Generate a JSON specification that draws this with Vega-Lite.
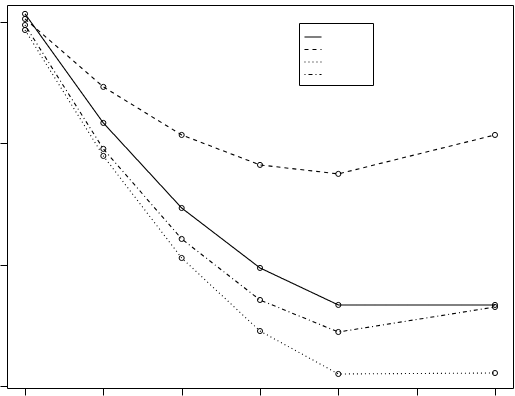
{
  "$schema": "https://vega.github.io/schema/vega-lite/v6.json",
  "width": 506,
  "height": 383,
  "autosize": "none",
  "padding": {"left": 7, "top": 5, "right": 2, "bottom": 8},
  "config": {
    "view": {"stroke": "black", "strokeWidth": 1},
    "axis": {"grid": false, "domain": false, "labels": false, "title": null, "tickColor": "black", "tickSize": 7, "tickWidth": 1}
  },
  "data": {
    "values": [
      {"series": "A", "x": 1, "y": 3.067},
      {"series": "A", "x": 2, "y": 2.168},
      {"series": "A", "x": 3, "y": 1.467},
      {"series": "A", "x": 4, "y": 0.973},
      {"series": "A", "x": 5, "y": 0.668},
      {"series": "A", "x": 7, "y": 0.668},
      {"series": "B", "x": 1, "y": 3.025},
      {"series": "B", "x": 2, "y": 2.465},
      {"series": "B", "x": 3, "y": 2.069},
      {"series": "B", "x": 4, "y": 1.822},
      {"series": "B", "x": 5, "y": 1.748},
      {"series": "B", "x": 7, "y": 2.069},
      {"series": "C", "x": 1, "y": 2.934},
      {"series": "C", "x": 2, "y": 1.896},
      {"series": "C", "x": 3, "y": 1.055},
      {"series": "C", "x": 4, "y": 0.453},
      {"series": "C", "x": 5, "y": 0.099},
      {"series": "C", "x": 7, "y": 0.107},
      {"series": "D", "x": 1, "y": 2.975},
      {"series": "D", "x": 2, "y": 1.954},
      {"series": "D", "x": 3, "y": 1.212},
      {"series": "D", "x": 4, "y": 0.709},
      {"series": "D", "x": 5, "y": 0.445},
      {"series": "D", "x": 7, "y": 0.651}
    ]
  },
  "encoding": {
    "x": {"field": "x", "type": "quantitative", "scale": {"domain": [0.770, 7.230], "nice": false, "zero": false}, "axis": {"values": [1, 2, 3, 4, 5, 6, 7]}},
    "y": {"field": "y", "type": "quantitative", "scale": {"domain": [-0.0165, 3.140], "nice": false, "zero": false}, "axis": {"values": [0, 1, 2, 3]}}
  },
  "layer": [
    {
      "mark": {"type": "line", "color": "black", "strokeWidth": 1.1},
      "encoding": {
        "strokeDash": {
          "field": "series",
          "type": "nominal",
          "scale": {"domain": ["A", "B", "C", "D"], "range": [[1, 0], [4, 4], [1, 3], [1, 3, 4, 3]]},
          "legend": {
            "orient": "none",
            "legendX": 292,
            "legendY": 18,
            "title": null,
            "strokeColor": "black",
            "padding": 7,
            "symbolType": "M-1.42,0H1.42",
            "symbolSize": 144,
            "symbolStrokeWidth": 1.1,
            "symbolStrokeColor": "black",
            "labelExpr": "''",
            "labelOffset": 46,
            "labelFontSize": 6,
            "rowPadding": 2.5
          }
        }
      }
    },
    {
      "mark": {"type": "point", "shape": "circle", "filled": false, "color": "black", "size": 26, "strokeWidth": 1, "opacity": 1},
      "encoding": {"detail": {"field": "series", "type": "nominal"}}
    }
  ]
}
